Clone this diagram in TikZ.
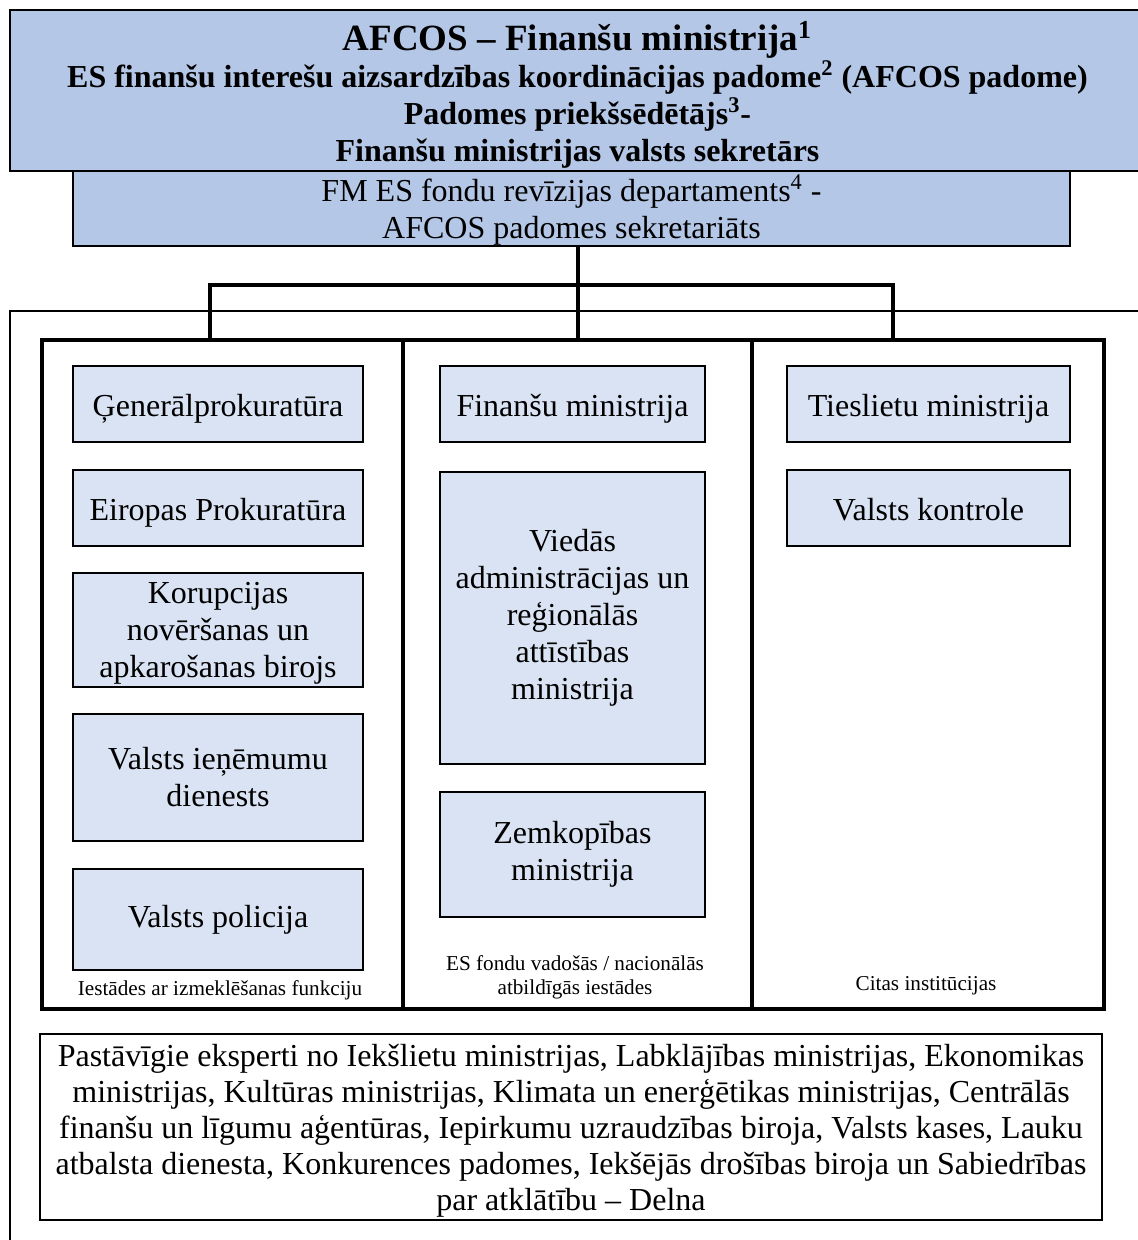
\documentclass[tikz,border=0pt]{standalone}
\usepackage{fontspec}
\setmainfont{Liberation Serif}
\usetikzlibrary{positioning}

\definecolor{hdrblue}{HTML}{B4C7E7}
\definecolor{orgblue}{HTML}{DAE3F3}

\begin{document}
\begin{tikzpicture}[x=1pt,y=-1pt,node distance=13pt]
       \tikzstyle{hdr}=[draw, line width=1pt, fill=hdrblue, align=center, inner sep=0pt]
       \tikzstyle{org}=[draw, line width=1pt, fill=orgblue, align=center, inner sep=0pt,
                        minimum height=38pt, font=\fontsize{16}{18.5}\selectfont]
       \tikzstyle{one}=[text height=12pt, text depth=0pt]
       \tikzstyle{grp}=[draw, line width=2pt, minimum height=334.5pt, anchor=north west]
       \tikzstyle{conn}=[line width=1.7pt]
       \tikzstyle{note}=[align=center, inner sep=0pt, font=\fontsize{10.6}{12}\selectfont]

       \useasboundingbox (0,0) rectangle (569,620);
       \clip (0,0) rectangle (569,620);

       % thin outer frame
       \draw[line width=0.9pt] (5,640) -- (5,155.5) -- (590,155.5);

       % top of the structure
       \node[hdr, minimum width=567.5pt, minimum height=80.5pt,
             font=\fontsize{16}{18.5}\selectfont\bfseries] (afcos) at (288.75,45.25)
         {{\fontsize{18.5}{21}\selectfont\rule{0pt}{19pt}AFCOS – Finanšu ministrija\textsuperscript{1}}\\
          ES finanšu interešu aizsardzības koordinācijas padome\textsuperscript{2} (AFCOS padome)\\
          Padomes priekšsēdētājs\textsuperscript{3}-\\
          Finanšu ministrijas valsts sekretārs};
       \node[hdr, minimum width=498.5pt, minimum height=37.5pt,
             font=\fontsize{16}{18.5}\selectfont] (secr) at (285.75,104.25)
         {\rule{0pt}{15pt}FM ES fondu revīzijas departaments\textsuperscript{4} -\\ AFCOS padomes sekretariāts};

       % three groups
       \node[grp, minimum width=180.5pt] (grpA) at (20,169) {};
       \node[grp, minimum width=174.5pt] (grpB) at (200.5,169) {};
       \node[grp, minimum width=176pt] (grpC) at (375,169) {};

       \coordinate (busM) at (289,142.5);
       \coordinate (busL) at (105,142.5);
       \coordinate (busR) at (446.5,142.5);
       \draw[conn] (secr.south -| busM) -- (busM |- grpB.north);
       \draw[conn] (busL |- grpA.north) -- (busL) -- (busR) -- (busR |- grpC.north);

       % investigating bodies
       \node[org, one, minimum width=145pt] (gen) at (109,202) {Ģenerālprokuratūra};
       \node[org, one, minimum width=145pt] (eppo) [below=of gen] {Eiropas Prokuratūra};
       \node[org, minimum width=145pt, minimum height=57pt] (knab) [below=12.5pt of eppo]
         {\rule{0pt}{13.5pt}Korupcijas\\ novēršanas un\\ apkarošanas birojs};
       \node[org, minimum width=145pt, minimum height=63.5pt] (vid) [below=12.5pt of knab]
         {Valsts ieņēmumu\\ dienests};
       \node[org, minimum width=145pt, minimum height=50.5pt] (vp) [below=of vid] {Valsts policija};
       \node[note] (noteA) at (110,495) {Iestādes ar izmeklēšanas funkciju};

       % managing authorities
       \node[org, one, minimum width=132.5pt] (fm) at (286.25,202) {Finanšu ministrija};
       \node[org, minimum width=132.5pt, minimum height=146pt] (varam) [below=14pt of fm]
         {Viedās\\ administrācijas un\\ reģionālās\\ attīstības\\ ministrija};
       \node[org, minimum width=132.5pt, minimum height=62.5pt] (zm) [below=of varam]
         {Zemkopības\\ ministrija};
       \node[note] (noteB) at (287.5,488.5) {ES fondu vadošās / nacionālās\\ atbildīgās iestādes};

       % other institutions
       \node[org, one, minimum width=141.5pt] (tm) at (464.25,202) {Tieslietu ministrija};
       \node[org, one, minimum width=141.5pt] (vk) [below=13pt of tm] {Valsts kontrole};
       \node[note] (noteC) at (463,493) {Citas institūcijas};

       % permanent experts
       \node[draw, line width=1pt, minimum width=531pt, minimum height=93pt,
             label={[align=center, inner sep=0pt, yshift=-2pt,
                     font=\fontsize{16}{18}\selectfont]center:{%
          Pastāvīgie eksperti no Iekšlietu ministrijas, Labklājības ministrijas, Ekonomikas\\
          ministrijas, Kultūras ministrijas, Klimata un enerģētikas ministrijas, Centrālās\\
          finanšu un līgumu aģentūras, Iepirkumu uzraudzības biroja, Valsts kases, Lauku\\
          atbalsta dienesta, Konkurences padomes, Iekšējās drošības biroja un Sabiedrības\\
          par atklātību – Delna}}] (experts) at (285.5,563.5) {};
     \end{tikzpicture}
\end{document}
